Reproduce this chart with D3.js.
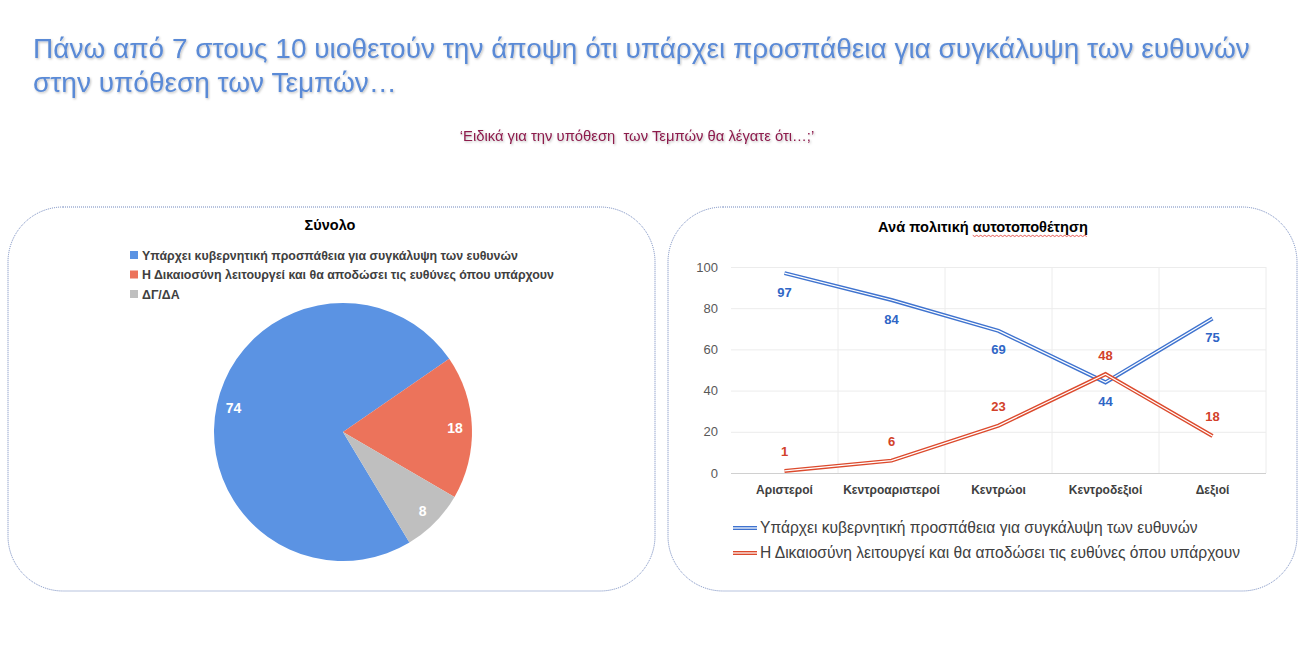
<!DOCTYPE html>
<html>
<head>
<meta charset="utf-8">
<script src="https://cdn.jsdelivr.net/npm/d3@7"></script>
<style>
    body { margin: 0; background: #ffffff; }
    text { font-family: "Liberation Sans", Arial, sans-serif; white-space: pre; }
</style>
</head>
<body>
<script>
//chart data
var pieCategories = ["Υπάρχει κυβερνητική προσπάθεια για συγκάλυψη των ευθυνών",
                     "Η Δικαιοσύνη λειτουργεί και θα αποδώσει τις ευθύνες όπου υπάρχουν",
                     "ΔΓ/ΔΑ"];
var pieValues = [74, 18, 8];

var groups = ["Αριστεροί", "Κεντροαριστεροί", "Κεντρώοι", "Κεντροδεξιοί", "Δεξιοί"];
var seriesNames = ["Υπάρχει κυβερνητική προσπάθεια για συγκάλυψη των ευθυνών",
                   "Η Δικαιοσύνη λειτουργεί και θα αποδώσει τις ευθύνες όπου υπάρχουν"];
var coverUp = [97, 84, 69, 44, 75];
var justice = [1, 6, 23, 48, 18];
var yTicks = [0, 20, 40, 60, 80, 100];

//colours
var pieColors = ["#5b93e3", "#ec735b", "#bfbfbf"];
var lineColors = ["#3f73cf", "#dc4a2d"];
var labelColors = ["#2f66c6", "#d2412a"];

window.onload = setChart;

function setChart(){

    var width = 1314,
        height = 665;

    var svg = d3.select("body")
        .append("svg")
        .attr("width", width)
        .attr("height", height);

    //soft shadow used on the heading
    var defs = svg.append("defs");
    defs.append("filter")
        .attr("id", "shadow")
        .attr("x", "-5%").attr("y", "-20%")
        .attr("width", "110%").attr("height", "160%")
        .append("feDropShadow")
        .attr("dx", 1).attr("dy", 1.2)
        .attr("stdDeviation", 0.8)
        .attr("flood-color", "#000")
        .attr("flood-opacity", 0.25);

    //heading
    var title = svg.append("text")
        .attr("fill", "#5a8ad6")
        .attr("font-size", 28)
        .attr("filter", "url(#shadow)");
    title.append("tspan").attr("x", 33).attr("y", 58)
        .text("Πάνω από 7 στους 10 υιοθετούν την άποψη ότι υπάρχει προσπάθεια για συγκάλυψη των ευθυνών");
    title.append("tspan").attr("x", 33).attr("y", 92)
        .text("στην υπόθεση των Τεμπών…");

    svg.append("line")
        .attr("x1", 17).attr("x2", 1270)
        .attr("y1", 103).attr("y2", 103)
        .attr("stroke", "#8db0dc")
        .attr("stroke-width", 2.5)
        .attr("filter", "url(#shadow)");

    svg.append("text")
        .attr("x", 637).attr("y", 141)
        .attr("text-anchor", "middle")
        .attr("font-size", 14.8)
        .attr("fill", "#8c1b4c")
        .attr("filter", "url(#shadow)")
        .text("‘Ειδικά για την υπόθεση  των Τεμπών θα λέγατε ότι…;’");

    //rounded dotted panels
    var panels = [[8, 207, 647, 384], [668, 207, 629, 384]];
    svg.selectAll(".panel")
        .data(panels)
        .enter()
        .append("rect")
        .attr("class", "panel")
        .attr("x", function(d){ return d[0]; })
        .attr("y", function(d){ return d[1]; })
        .attr("width", function(d){ return d[2]; })
        .attr("height", function(d){ return d[3]; })
        .attr("rx", 55).attr("ry", 55)
        .attr("fill", "none")
        .attr("stroke", "#6f86bd")
        .attr("stroke-width", 1)
        .attr("stroke-dasharray", "1,1");

    drawPie(svg);
    drawLines(svg);
};

//left panel: total pie
function drawPie(svg){

    var cx = 343, cy = 432, radius = 129;

    svg.append("text")
        .attr("x", 330).attr("y", 230)
        .attr("text-anchor", "middle")
        .attr("font-size", 14.5)
        .attr("font-weight", "bold")
        .attr("fill", "#000")
        .text("Σύνολο");

    //legend
    var legend = svg.selectAll(".pieLegend")
        .data(pieCategories)
        .enter()
        .append("g")
        .attr("class", "pieLegend")
        .attr("transform", function(d, i){ return "translate(130," + (255 + i * 19.5) + ")"; });

    legend.append("rect")
        .attr("x", 0).attr("y", -4)
        .attr("width", 8).attr("height", 8)
        .attr("fill", function(d, i){ return pieColors[i]; });

    legend.append("text")
        .attr("x", 12).attr("y", 4.5)
        .attr("font-size", 12.4)
        .attr("font-weight", "bold")
        .attr("fill", "#404040")
        .text(function(d){ return d; });

    //excel style first slice angle
    var start = 149 * Math.PI / 180;
    var pie = d3.pie()
        .sort(null)
        .startAngle(start)
        .endAngle(start + 2 * Math.PI);

    var arc = d3.arc().innerRadius(0).outerRadius(radius);
    var labelArc = d3.arc().innerRadius(112).outerRadius(112);

    var g = svg.append("g")
        .attr("transform", "translate(" + cx + "," + cy + ")");

    var slices = pie(pieValues);

    g.selectAll(".slice")
        .data(slices)
        .enter()
        .append("path")
        .attr("class", "slice")
        .attr("d", arc)
        .attr("fill", function(d, i){ return pieColors[i]; });

    g.selectAll(".pieLabel")
        .data(slices)
        .enter()
        .append("text")
        .attr("class", "pieLabel")
        .attr("transform", function(d){ return "translate(" + labelArc.centroid(d) + ")"; })
        .attr("text-anchor", "middle")
        .attr("dy", "0.35em")
        .attr("font-size", 14)
        .attr("font-weight", "bold")
        .attr("fill", "#ffffff")
        .text(function(d){ return d.data; });
};

//right panel: by political self-placement
function drawLines(svg){

    var left = 731, right = 1266, top = 267, bottom = 473;

    var title = svg.append("text")
        .attr("x", 983).attr("y", 232)
        .attr("text-anchor", "middle")
        .attr("font-size", 14.6)
        .attr("font-weight", "bold")
        .attr("fill", "#000")
        .text("Ανά πολιτική αυτοτοποθέτηση");

    //red squiggle under the last word, like the spell checker
    var node = title.node();
    var word = "αυτοτοποθέτηση";
    var idx = node.textContent.indexOf(word);
    var wx = node.getStartPositionOfChar(idx).x;
    var ww = node.getSubStringLength(idx, word.length);
    var zig = [];
    for (var p = 0; p <= ww; p += 2) {
        zig.push([wx + p, 235.5 + ((p / 2) % 2 ? 1 : -0.2)]);
    }
    svg.append("path")
        .attr("d", d3.line()(zig))
        .attr("fill", "none")
        .attr("stroke", "#e0322a")
        .attr("stroke-width", 0.8);

    var x = d3.scaleBand()
        .domain(groups)
        .range([left, right]);

    var y = d3.scaleLinear()
        .domain([0, 100])
        .range([bottom, top]);

    //horizontal grid and y labels
    var yAxis = svg.append("g")
        .attr("transform", "translate(" + left + ",0)")
        .call(d3.axisLeft(y)
            .tickValues(yTicks)
            .tickSize(-(right - left))
            .tickPadding(13));
    yAxis.select(".domain").remove();
    yAxis.selectAll("line")
        .attr("stroke", function(d){ return d === 0 ? "#d0d0d0" : "#ececec"; });
    yAxis.selectAll("text")
        .attr("font-family", "Liberation Sans, Arial, sans-serif")
        .attr("font-size", 13)
        .attr("fill", "#595959");

    //vertical grid at category boundaries
    var edges = groups.map(function(d){ return x(d); }).concat([right]);
    svg.selectAll(".vgrid")
        .data(edges.slice(1))
        .enter()
        .append("line")
        .attr("class", "vgrid")
        .attr("x1", function(d){ return d; })
        .attr("x2", function(d){ return d; })
        .attr("y1", y(100))
        .attr("y2", y(0))
        .attr("stroke", "#ececec");

    //x labels
    var xAxis = svg.append("g")
        .attr("transform", "translate(0," + bottom + ")")
        .call(d3.axisBottom(x).tickSize(0).tickPadding(12));
    xAxis.select(".domain").remove();
    xAxis.selectAll("text")
        .attr("font-family", "Liberation Sans, Arial, sans-serif")
        .attr("font-size", 12)
        .attr("font-weight", "bold")
        .attr("fill", "#404040");

    var line = d3.line()
        .x(function(d, i){ return x(groups[i]) + x.bandwidth() / 2; })
        .y(function(d){ return y(d); });

    var series = [coverUp, justice];
    var offsets = [19, -19];

    //double stroked lines: colour then thin white core
    series.forEach(function(values, s){
        svg.append("path")
            .attr("d", line(values))
            .attr("fill", "none")
            .attr("stroke", lineColors[s])
            .attr("stroke-width", 4)
            .attr("stroke-linejoin", "miter");
        svg.append("path")
            .attr("d", line(values))
            .attr("fill", "none")
            .attr("stroke", "#ffffff")
            .attr("stroke-width", 1.2)
            .attr("stroke-linejoin", "miter");
    });

    series.forEach(function(values, s){
        svg.selectAll(".lab" + s)
            .data(values)
            .enter()
            .append("text")
            .attr("class", "lab" + s)
            .attr("x", function(d, i){ return x(groups[i]) + x.bandwidth() / 2; })
            .attr("y", function(d){ return y(d) + offsets[s]; })
            .attr("dy", "0.35em")
            .attr("text-anchor", "middle")
            .attr("font-size", 13)
            .attr("font-weight", "bold")
            .attr("fill", labelColors[s])
            .text(function(d){ return d; });
    });

    //legend
    var legend = svg.selectAll(".lineLegend")
        .data(seriesNames)
        .enter()
        .append("g")
        .attr("class", "lineLegend")
        .attr("transform", function(d, i){ return "translate(733," + (528 + i * 25) + ")"; });

    legend.append("line")
        .attr("x1", 0).attr("x2", 24)
        .attr("stroke", function(d, i){ return lineColors[i]; })
        .attr("stroke-width", 4);
    legend.append("line")
        .attr("x1", 0).attr("x2", 24)
        .attr("stroke", "#ffffff")
        .attr("stroke-width", 1.2);

    legend.append("text")
        .attr("x", 27).attr("y", 5)
        .attr("font-size", 15.6)
        .attr("fill", "#404040")
        .text(function(d){ return d; });
};
</script>
</body>
</html>
